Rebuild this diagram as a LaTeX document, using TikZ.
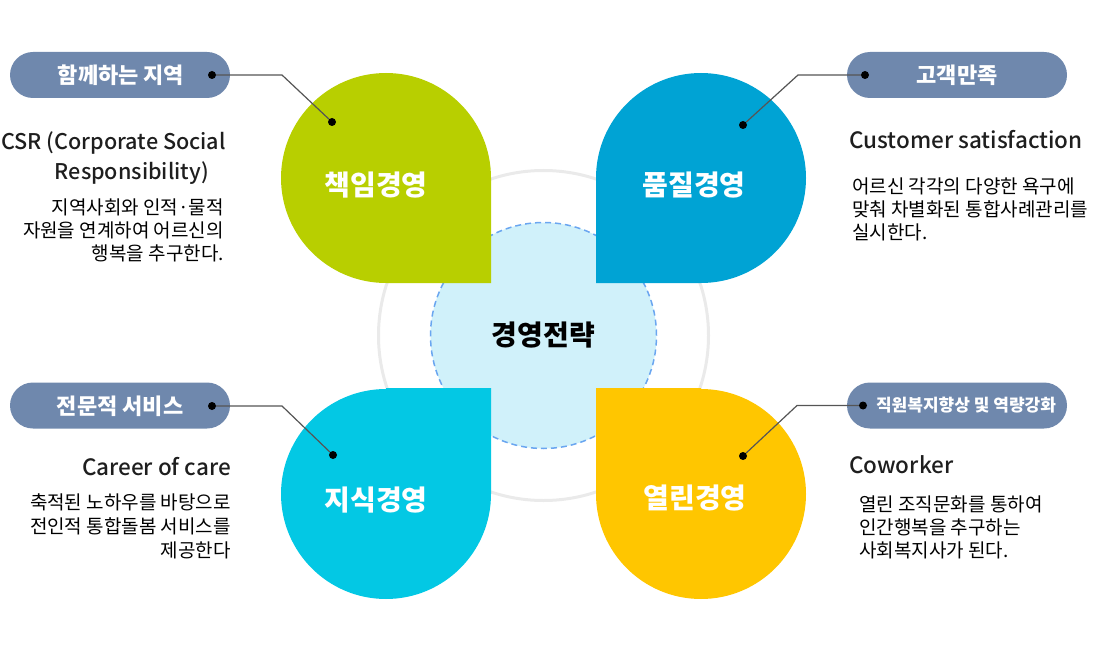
\documentclass[tikz,border=0pt]{standalone}
\usepackage{fontspec}
\setmainfont{Noto Sans CJK KR}
\newfontfamily\medfont{Noto Sans CJK KR Medium}
\definecolor{petalgreen}{RGB}{184,207,0}
\definecolor{petalblue}{RGB}{0,163,212}
\definecolor{petalcyan}{RGB}{3,200,228}
\definecolor{petalyellow}{RGB}{255,198,0}
\definecolor{centrefill}{RGB}{208,241,250}
\definecolor{centreline}{RGB}{106,166,240}
\definecolor{ringgray}{RGB}{234,234,234}
\definecolor{pillblue}{RGB}{111,136,173}
\definecolor{linegray}{RGB}{85,85,85}
\definecolor{textgray}{RGB}{30,30,30}
\begin{document}
\begin{tikzpicture}[x=1pt,y=-1pt]
	\tikzstyle{pillbox}=[fill=pillblue,rounded corners=23pt,minimum width=220pt,minimum height=46pt,inner sep=0pt]
	\tikzstyle{pilltext}=[text=white,font=\fontsize{22}{26}\selectfont\bfseries]
	\tikzstyle{blob}=[circle,fill=black,minimum size=8pt,inner sep=0pt]
	\tikzstyle{petaltext}=[text=white,font=\fontsize{28}{30}\selectfont\bfseries]
	\tikzstyle{head}=[text=textgray,font=\fontsize{22.5}{30}\selectfont\medfont,inner sep=0pt]
	\tikzstyle{body}=[text=black,font=\fontsize{19}{23}\selectfont,inner sep=0pt]
	\tikzstyle{link}=[draw=linegray,line width=1.2pt]

	\useasboundingbox (0,0) rectangle (1100,655);

	\begin{scope}
		\draw[draw=ringgray,line width=3pt] (543.5,335.5) circle (165pt);
		\node[circle,minimum size=226pt,fill=centrefill,draw=centreline,line width=1.5pt,dash pattern=on 6pt off 4pt,
			font=\fontsize{28}{30}\selectfont\bfseries] (core) at (543.5,335.5) {경영전략};
	\end{scope}

	\begin{scope}
		\fill[petalgreen] (386,178) circle (105pt) (386,178) rectangle (491,283);
		\fill[petalblue] (701,178) circle (105pt) (596,178) rectangle (701,283);
		\fill[petalcyan] (386,494) circle (105pt) (386,388) rectangle (491,494);
		\fill[petalyellow] (701,494) circle (105pt) (596,388) rectangle (701,494);
		\node[petaltext] (green) at (376,185) {책임경영};
		\node[petaltext] (blue) at (694,185) {품질경영};
		\node[petaltext] (cyan) at (376,500) {지식경영};
		\node[petaltext] (yellow) at (695,498) {열린경영};
	\end{scope}

	\begin{scope}
		\node[pillbox] (tlpill) at (120,75) {};
		\node[pilltext] (tltag) at (121,75) {함께하는 지역};
		\node[blob] (tldot) at (212,75) {};
		\node[blob] (greendot) at (332,122) {};
		\coordinate (tlbend) at (282,75);
		\draw[link] (tldot) -- (tlbend) -- (greendot);

		\node[pillbox] (trpill) at (957,75) {};
		\node[pilltext] (trtag) at (957,75) {고객만족};
		\node[blob] (trdot) at (865,75) {};
		\node[blob] (bluedot) at (743,125) {};
		\coordinate (trbend) at (798,75);
		\draw[link] (trdot) -- (trbend) -- (bluedot);

		\node[pillbox] (blpill) at (120,405.5) {};
		\node[pilltext] (bltag) at (120,406) {전문적 서비스};
		\node[blob] (bldot) at (212,406) {};
		\node[blob] (cyandot) at (333,455) {};
		\coordinate (blbend) at (282,406);
		\draw[link] (bldot) -- (blbend) -- (cyandot);

		\node[pillbox] (brpill) at (957,405.5) {};
		\node[pilltext,font=\fontsize{17}{20}\selectfont\bfseries] (brtag) at (966,405.5) {직원복지향상 및 역량강화};
		\node[blob] (brdot) at (863,405.5) {};
		\node[blob] (yellowdot) at (743,456) {};
		\coordinate (brbend) at (797,405.5);
		\draw[link] (brdot) -- (brbend) -- (yellowdot);
	\end{scope}

	\node[head,anchor=north east,align=right,font=\fontsize{21.6}{30}\selectfont\medfont] (csrhead) at (226,131) {CSR (Corporate Social\\Responsibility)\hspace*{17pt}};
	\node[body,anchor=north east,align=right] (csrbody) at (224,198.5) {지역사회와 인적·물적\\자원을 연계하여 어르신의\\행복을 추구한다.};

	\node[head,anchor=north west] (cushead) at (849,130) {Customer satisfaction};
	\node[body,anchor=north west,align=left] (cusbody) at (852,178) {어르신 각각의 다양한 욕구에\\맞춰 차별화된 통합사례관리를\\실시한다.};

	\node[head,anchor=north east] (carhead) at (231,457) {Career of care};
	\node[body,anchor=north east,align=right,font=\fontsize{19}{24}\selectfont] (carbody) at (231,494) {축적된 노하우를 바탕으로\\전인적 통합돌봄 서비스를\\제공한다};

	\node[head,anchor=north west] (cowhead) at (849,455) {Coworker};
	\node[body,anchor=north west,align=left] (cowbody) at (859,496) {열린 조직문화를 통하여\\인간행복을 추구하는\\사회복지사가 된다.};
\end{tikzpicture}
\end{document}
